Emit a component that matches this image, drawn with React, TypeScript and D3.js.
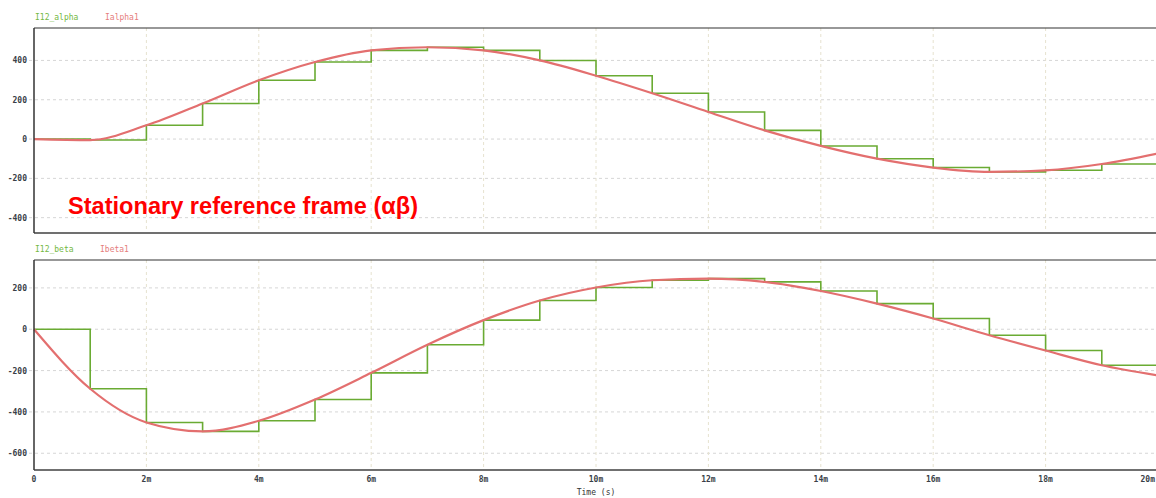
import React, { useRef, useEffect } from 'react';
import * as d3 from 'd3';

// sample instants in ms (0..20)
const timesMs = d3.range(0, 21);

// alpha frame: continuous current and sampled/held value
const ialpha1 = [0, -5, 70, 181, 299, 392, 451, 467, 451, 400, 322, 233, 138, 44, -35, -100, -145, -167, -159, -127, -73];
const i12Alpha = [0, -5, 70, 181, 299, 392, 451, 467, 451, 400, 322, 233, 138, 44, -35, -100, -145, -167, -159, -127];

// beta frame
const ibeta1 = [0, -288, -451, -494, -443, -340, -211, -75, 44, 139, 202, 237, 245, 229, 185, 124, 52, -29, -103, -174, -223];
const i12Beta = [0, -288, -451, -494, -443, -340, -211, -75, 44, 139, 202, 237, 245, 229, 185, 124, 52, -29, -103, -174];

const xTicks = [0, 2, 4, 6, 8, 10, 12, 14, 16, 18, 20];
const alphaTicks = [400, 200, 0, -200, -400];
const betaTicks = [200, 0, -200, -400, -600];

const panels = [
  { top: 28, bottom: 233, domain: [-478, 565], ticks: alphaTicks, held: i12Alpha, cur: ialpha1, names: ['I12_alpha', 'Ialpha1'], nameX: [35, 105], legendY: 20 },
  { top: 260, bottom: 470, domain: [-681, 335], ticks: betaTicks, held: i12Beta, cur: ibeta1, names: ['I12_beta', 'Ibeta1'], nameX: [35, 100], legendY: 252 },
];

const MONO = 'DejaVu Sans Mono, monospace';
const GREEN = '#6aab33';
const RED = '#e36f6f';

function App() {
  const ref = useRef<SVGSVGElement>(null);

  useEffect(() => {
    const svg = d3.select(ref.current);
    svg.selectAll('*').remove();

    const x = d3.scaleLinear().domain([0, 20]).range([34, 1158]);

    panels.forEach((p) => {
      const y = d3.scaleLinear().domain(p.domain).range([p.bottom, p.top]);
      const g = svg.append('g');

      // grid
      g.selectAll('.hg').data(p.ticks).enter().append('line')
        .attr('x1', 29).attr('x2', 1158)
        .attr('y1', (d) => y(d)).attr('y2', (d) => y(d))
        .attr('stroke', '#d6d6d6').attr('stroke-dasharray', '3,3');
      g.selectAll('.vg').data(xTicks.slice(1)).enter().append('line')
        .attr('x1', (d) => x(d)).attr('x2', (d) => x(d))
        .attr('y1', p.top).attr('y2', p.bottom)
        .attr('stroke', '#e6e2cf').attr('stroke-dasharray', '3,3');

      // y tick labels
      g.selectAll('.yl').data(p.ticks).enter().append('text')
        .attr('x', 27).attr('y', (d) => y(d) + 3)
        .attr('text-anchor', 'end')
        .attr('font-family', MONO).attr('font-size', 8).attr('font-weight', 'bold')
        .attr('fill', '#3a3f48')
        .text((d) => String(d));

      // held (stair) signal
      const stairs = p.held.map((v, i) => [timesMs[i], v] as [number, number]);
      stairs.push([20, p.held[p.held.length - 1]]);
      g.append('path')
        .attr('d', d3.line<[number, number]>().x((d) => x(d[0])).y((d) => y(d[1])).curve(d3.curveStepAfter)(stairs))
        .attr('fill', 'none').attr('stroke', GREEN).attr('stroke-width', 1.6);

      // continuous signal
      const curve = p.cur.map((v, i) => [timesMs[i], v] as [number, number]);
      g.append('path')
        .attr('d', d3.line<[number, number]>().x((d) => x(d[0])).y((d) => y(d[1])).curve(d3.curveMonotoneX)(curve))
        .attr('fill', 'none').attr('stroke', RED).attr('stroke-width', 2.2);

      // frame
      g.append('line').attr('x1', 34).attr('x2', 1158).attr('y1', p.top).attr('y2', p.top)
        .attr('stroke', '#333').attr('stroke-width', 1.2);
      g.append('line').attr('x1', 34).attr('x2', 1158).attr('y1', p.bottom).attr('y2', p.bottom)
        .attr('stroke', '#707070').attr('stroke-width', 2);
      g.append('line').attr('x1', 34).attr('x2', 34).attr('y1', p.top).attr('y2', p.bottom)
        .attr('stroke', '#333').attr('stroke-width', 1.5);

      // legend
      g.append('text').attr('x', p.nameX[0]).attr('y', p.legendY)
        .attr('font-family', MONO).attr('font-size', 8).attr('fill', '#74b843').text(p.names[0]);
      g.append('text').attr('x', p.nameX[1]).attr('y', p.legendY)
        .attr('font-family', MONO).attr('font-size', 8).attr('fill', '#e57c7c').text(p.names[1]);
    });

    // x tick labels (last one pulled inside the edge)
    svg.selectAll('.xl').data(xTicks).enter().append('text')
      .attr('x', (d) => (d === 20 ? 1155 : x(d))).attr('y', 482)
      .attr('text-anchor', (d) => (d === 20 ? 'end' : 'middle'))
      .attr('font-family', MONO).attr('font-size', 8).attr('font-weight', 'bold')
      .attr('fill', '#3a3f48')
      .text((d) => (d === 0 ? '0' : d + 'm'));

    svg.append('text').attr('x', 596).attr('y', 495)
      .attr('text-anchor', 'middle')
      .attr('font-family', MONO).attr('font-size', 8).attr('fill', '#333')
      .text('Time (s)');

    svg.append('text').attr('x', 68).attr('y', 214)
      .attr('font-family', 'Liberation Sans, Arial, sans-serif').attr('font-size', 23).attr('font-weight', 'bold')
      .attr('fill', '#ff0000')
      .attr('textLength', 350).attr('lengthAdjust', 'spacingAndGlyphs')
      .text('Stationary reference frame (αβ)');
  }, []);

  return (
    <svg ref={ref} width={1156} height={498}
      style={{ position: 'absolute', left: 0, top: 0, background: '#fff' }} />
  );
}

export default App;
